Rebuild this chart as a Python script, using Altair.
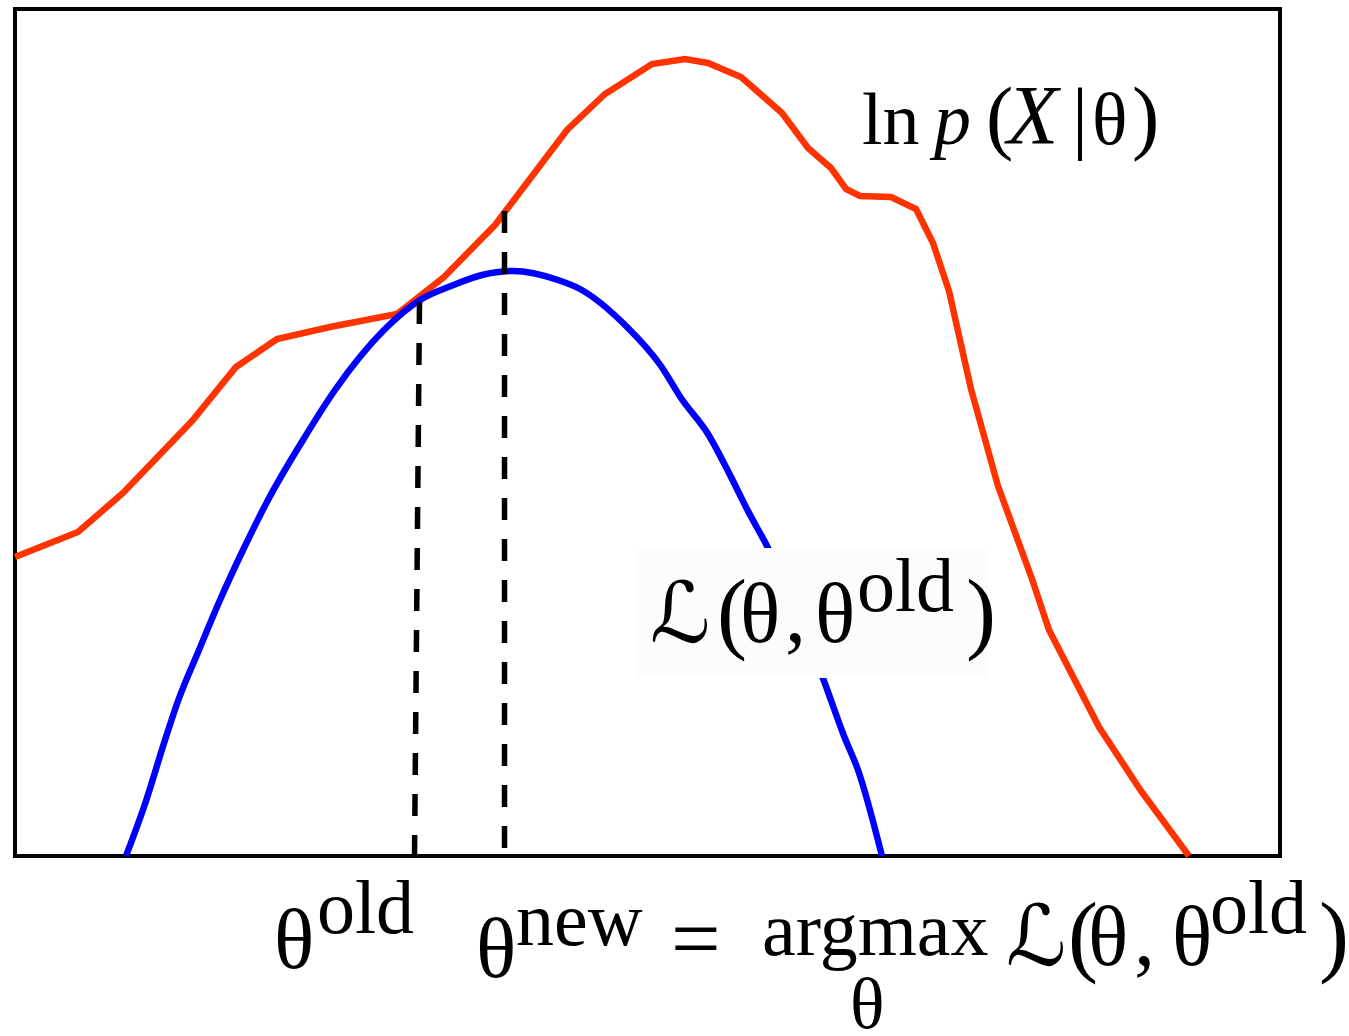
import altair as alt
import pandas as pd

# Plot frame in data units (1 unit = 1 px on screen)
W, H = 1265, 847

# ln p(X|theta): the incomplete-data log likelihood
red_theta = [0, 63, 108, 177, 221, 262, 315, 382, 429, 480, 552, 590, 637, 670, 693, 726,
             767, 793, 816, 831, 845, 876, 901, 918, 934, 956, 983, 1017, 1034, 1084, 1126, 1174]
red_value = [299, 324, 363, 435, 489, 517, 529, 542, 579, 631, 726, 762, 792, 797, 793, 779,
             743, 708, 688, 667, 660, 659, 647, 613, 565, 467, 370, 277, 226, 129, 65, 0]

# L(theta, theta_old): the lower bound touching the likelihood at theta_old
blue_theta = [111, 130, 150, 163, 184, 205, 229, 253, 288, 320, 369, 405, 436, 467,
              498, 543, 565, 610, 646, 666, 693, 715, 733, 753, 809, 829, 843, 867]
blue_value = [0, 52, 116, 155, 206, 256, 308, 356, 416, 466, 526, 556, 570, 581,
              585, 576, 567, 531, 490, 458, 422, 381, 345, 308, 175, 120, 86, 0]

# dashed guides at theta_old and theta_new (top point, then bottom point)
guide_name = ["old", "old", "new", "new"]
guide_theta = [404.5, 399.5, 489.5, 489.5]
guide_value = [554, 0, 645, 0]
guide_order = [0, 1, 0, 1]

# backdrop behind the lower-bound label
box_theta = [622]
box_theta2 = [973]
box_value = [178]
box_value2 = [308]

# label pieces: text, left x, baseline y, font size, style
lab_text = ["ln", "p", "(", "X", "|", "θ", ")",
            "ℒ", "(", "θ", ",", "θ", "old", ")",
            "θ", "old",
            "θ", "new", "=", "argmax", "θ", "ℒ", "(", "θ", ",", "θ", "old", ")"]
lab_x = [847, 919, 971, 992, 1057, 1077, 1117,
         635, 702, 725, 770, 800, 842, 951,
         259, 302,
         461, 501, 656, 747, 835, 991, 1053, 1073, 1119, 1157, 1195, 1304]
lab_y = [712, 712, 712, 712, 712, 712, 712,
         214, 214, 214, 214, 214, 245, 214,
         -112, -77,
         -121, -89, -112, -99, -172, -109, -109, -109, -109, -109, -77, -109]
lab_size = [74, 74, 82, 84, 80, 74, 82,
            84, 90, 84, 84, 84, 76, 90,
            84, 76,
            84, 76, 88, 76, 72, 84, 90, 84, 84, 84, 76, 90]
lab_style = ["n", "i", "n", "i", "n", "n", "n",
             "s", "n", "n", "n", "n", "n", "n",
             "n", "n",
             "n", "n", "n", "n", "n", "s", "n", "n", "n", "n", "n", "n"]

red = pd.DataFrame({"theta": red_theta, "value": red_value, "i": range(len(red_theta))})
blue = pd.DataFrame({"theta": blue_theta, "value": blue_value, "i": range(len(blue_theta))})
guides = pd.DataFrame({"guide": guide_name, "theta": guide_theta,
                       "value": guide_value, "ord": guide_order})
box = pd.DataFrame({"theta": box_theta, "theta2": box_theta2,
                    "value": box_value, "value2": box_value2})
labels = pd.DataFrame({"text": lab_text, "theta": lab_x, "value": lab_y,
                       "size": lab_size, "style": lab_style})

xs = alt.Scale(domain=[0, W], nice=False, zero=False)
ys = alt.Scale(domain=[0, H], nice=False, zero=False)
X = alt.X("theta:Q", scale=xs, axis=None)
Y = alt.Y("value:Q", scale=ys, axis=None)

red_line = alt.Chart(red).mark_line(color="#ff3300", strokeWidth=6.5).encode(
    x=X, y=Y, order="i:Q")
blue_line = alt.Chart(blue).mark_line(
    color="#0000ff", strokeWidth=6.5, interpolate="monotone").encode(
    x=X, y=Y, order="i:Q")
backdrop = alt.Chart(box).mark_rect(color="#fcfcfc").encode(
    x=X, x2="theta2:Q", y=Y, y2="value2:Q")
dashes = alt.Chart(guides).mark_line(
    color="black", strokeWidth=5.5, strokeDash=[22, 19]).encode(
    x=X, y=Y, detail="guide:N", order="ord:Q")


def text_layer(style, font, italic=False):
    props = dict(align="left", baseline="alphabetic", font=font, color="black")
    if italic:
        props["fontStyle"] = "italic"
    return alt.Chart(labels).transform_filter(
        alt.datum.style == style
    ).mark_text(**props).encode(
        x=X, y=Y, text="text:N",
        size=alt.Size("size:Q", scale=None, legend=None))


serif = "Liberation Serif, DejaVu Serif, serif"
texts = [
    text_layer("n", serif),
    text_layer("i", serif, italic=True),
    text_layer("s", "DejaVu Serif, DejaVu Sans, serif"),
]

chart = alt.layer(red_line, blue_line, backdrop, dashes, *texts).properties(
    width=W, height=H,
    padding={"left": 15, "top": 9, "right": 69, "bottom": 180},
    autosize=alt.AutoSizeParams(type="none"),
    background="white",
).configure_view(stroke="black", strokeWidth=4)

chart.save("out.html", embed_options={"renderer": "svg", "actions": False})
